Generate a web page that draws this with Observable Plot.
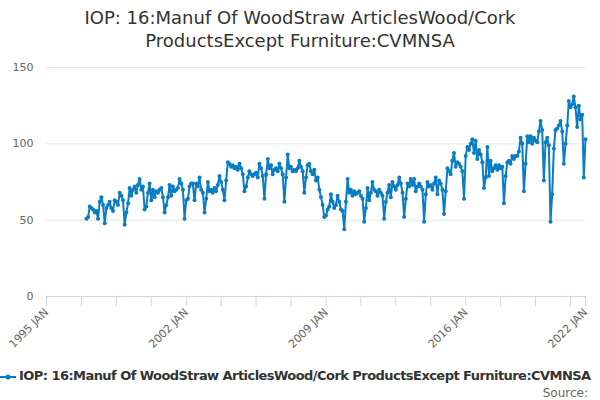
<!DOCTYPE html>
<html>
<head>
<meta charset="utf-8">
<script src="https://cdn.jsdelivr.net/npm/d3@7"></script>
<script src="https://cdn.jsdelivr.net/npm/@observablehq/plot@0.6"></script>
<style>
  html, body { margin: 0; padding: 0; background: #fff; }
  body { width: 600px; height: 400px; overflow: hidden; position: relative; font-family: "DejaVu Sans", sans-serif; }
  #title { position: absolute; top: 6px; left: 0; width: 600px; text-align: center; font-size: 18px; line-height: 23px; color: #333; }
  #chart { position: absolute; top: 58px; left: 0; }
  #legend { position: absolute; top: 368px; left: 0; width: 600px; white-space: nowrap; font-size: 13px; letter-spacing: -0.55px; font-weight: bold; color: #333; }
  #legend svg { vertical-align: middle; margin-right: 3px; }
  #source { position: absolute; top: 386px; right: 12px; font-size: 12px; color: #666; }
</style>
</head>
<body>
<div id="title">IOP: 16:Manuf Of WoodStraw ArticlesWood/Cork<br>ProductsExcept Furniture:CVMNSA</div>
<div id="chart"></div>
<div id="legend"><svg width="16" height="12"><line x1="0" y1="6" x2="16" y2="6" stroke="#0a7dc2" stroke-width="2"/><circle cx="8" cy="6" r="2.5" fill="#0a7dc2"/></svg>IOP: 16:Manuf Of WoodStraw ArticlesWood/Cork ProductsExcept Furniture:CVMNSA</div>
<div id="source">Source:</div>
<script>
const seriesName = "IOP: 16:Manuf Of WoodStraw ArticlesWood/Cork ProductsExcept Furniture:CVMNSA";
const firstMonth = "1997-01";
// monthly values, Jan 1997 onwards
const values1997to2001 = [
  51, 52, 59, 58, 57, 55, 56, 51, 62, 65, 60, 48,
  58, 60, 62, 58, 56, 63, 62, 60, 68, 66, 63, 47,
  55, 61, 71, 66, 70, 72, 68, 73, 77, 70, 72, 57,
  59, 68, 74, 63, 70, 65, 69, 68, 70, 71, 65, 55,
  60, 65, 73, 66, 72, 69, 70, 71, 77, 74, 70, 51
];
const values2002to2006 = [
  63, 64, 72, 74, 74, 63, 74, 72, 78, 70, 68, 55,
  64, 75, 69, 70, 68, 71, 69, 73, 79, 75, 70, 63,
  76, 88, 87, 85, 86, 84, 85, 83, 87, 84, 80, 69,
  72, 78, 82, 80, 79, 80, 81, 78, 87, 84, 79, 64,
  80, 90, 84, 86, 80, 83, 84, 82, 87, 84, 80, 62
];
const values2007to2011 = [
  78, 93, 84, 85, 82, 83, 82, 84, 89, 85, 82, 68,
  78, 86, 87, 82, 80, 83, 76, 78, 70, 65, 60, 52,
  53, 57, 59, 67, 62, 58, 60, 66, 62, 57, 56, 44,
  62, 77, 68, 70, 66, 69, 67, 68, 69, 66, 64, 49,
  58, 71, 63, 68, 75, 70, 69, 66, 70, 68, 66, 51
];
const values2012to2016 = [
  62, 68, 73, 65, 75, 72, 70, 73, 78, 74, 68, 52,
  64, 74, 72, 77, 73, 77, 69, 72, 74, 72, 70, 49,
  67, 75, 72, 73, 70, 74, 78, 67, 76, 74, 70, 54,
  69, 84, 82, 80, 89, 94, 85, 88, 87, 85, 82, 64,
  92, 98, 96, 100, 103, 94, 102, 90, 96, 93, 88, 71
];
const values2017to2022 = [
  78, 98, 79, 89, 82, 84, 86, 83, 86, 84, 85, 61,
  79, 88, 89, 87, 92, 90, 92, 92, 95, 104, 100, 69,
  87, 105, 101, 105, 100, 104, 102, 101, 108, 115, 109, 76,
  101, 104, 99, 49, 67, 97, 109, 110, 112, 115, 108, 87,
  100, 112, 128, 124, 126, 131, 124, 111, 125, 116, 119, 78,
  103
];
const yTicks = [0, 50, 100, 150];
const xStart = "1995-01", xEnd = "2022-01";
const labelYears = [1995, 2002, 2009, 2016, 2022];

const allValues = [...values1997to2001, ...values2002to2006, ...values2007to2011, ...values2012to2016, ...values2017to2022];
const parseM = d3.utcParse("%Y-%m");
const t0 = parseM(firstMonth);
const data = allValues.map((v, i) => ({date: d3.utcMonth.offset(t0, i), value: v}));

const xs = parseM(xStart), xe = parseM(xEnd);
const tickDates = d3.range(0, 324, 21).map(m => d3.utcMonth.offset(xs, m)).concat([xe]);
const fmt = d => (d.getUTCMonth() === 0 && labelYears.includes(d.getUTCFullYear())) ? `${d.getUTCFullYear()} JAN` : "";

const color = "#0a7dc2";
const chart = Plot.plot({
  width: 600,
  height: 300,
  marginTop: 9,
  marginBottom: 62,
  marginLeft: 46,
  marginRight: 15,
  style: {fontFamily: "DejaVu Sans, sans-serif", fontSize: "11px", color: "#666", background: "transparent"},
  x: {type: "utc", domain: [xs, xe]},
  y: {domain: [0, 150]},
  marks: [
    Plot.gridY(yTicks, {stroke: "#e6e6e6", strokeOpacity: 1}),
    Plot.axisY(yTicks, {tickSize: 0, tickPadding: 13, fill: "#666", label: null}),
    Plot.ruleY([0], {stroke: "#ccd6eb"}),
    Plot.axisX(tickDates, {tickSize: 10, stroke: "#ccd6eb", tickRotate: -45, tickFormat: fmt, fill: "#666", tickPadding: 4, label: null}),
    Plot.line(data, {x: "date", y: "value", stroke: color, strokeWidth: 2}),
    Plot.dot(data, {x: "date", y: "value", fill: color, r: 2})
  ]
});
document.getElementById("chart").appendChild(chart);
</script>
</body>
</html>
